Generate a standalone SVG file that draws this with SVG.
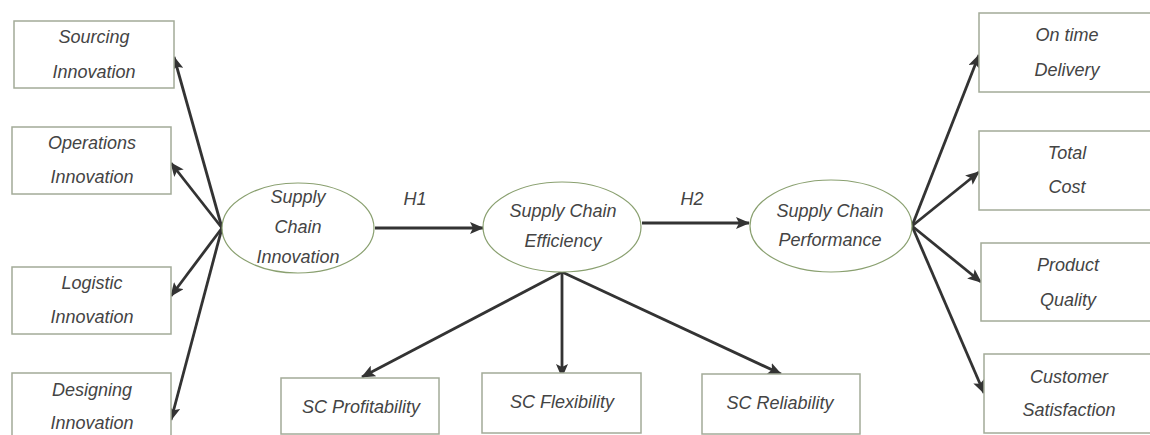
<svg xmlns="http://www.w3.org/2000/svg" width="1150" height="435" viewBox="0 0 1150 435">
<defs>
<style>
.box{fill:#fff;stroke:#a3ab98;stroke-width:1.5}
.ell{fill:#fff;stroke:#8aa070;stroke-width:1.2}
.t{font-family:"Liberation Sans",Arial,sans-serif;font-style:italic;font-size:18px;fill:#444;text-anchor:middle}
.c{stroke:#333;stroke-width:2.8;fill:none;marker-end:url(#ah)}
</style>
<marker id="ah" markerUnits="userSpaceOnUse" markerWidth="14" markerHeight="12" viewBox="0 0 14 12" refX="13" refY="6" orient="auto">
<path d="M0,0 L14,6 L0,12 L3,6 Z" fill="#333"/>
</marker>
</defs>
<rect width="1150" height="435" fill="#fff"/>
<g id="connectors">
<line class="c" x1="222" y1="228" x2="174" y2="57"/>
<line class="c" x1="222" y1="228" x2="171" y2="163"/>
<line class="c" x1="222" y1="228" x2="171" y2="296"/>
<line class="c" x1="222" y1="228" x2="171" y2="420"/>
<line class="c" x1="375" y1="228" x2="483" y2="228"/>
<line class="c" x1="642" y1="223" x2="749" y2="223"/>
<line class="c" x1="562" y1="272" x2="362" y2="377"/>
<line class="c" x1="562" y1="272" x2="562" y2="377"/>
<line class="c" x1="562" y1="272" x2="781" y2="374"/>
<line class="c" x1="912" y1="226" x2="979" y2="55"/>
<line class="c" x1="912" y1="226" x2="979" y2="172"/>
<line class="c" x1="912" y1="226" x2="981" y2="282"/>
<line class="c" x1="912" y1="226" x2="984" y2="393"/>
<text class="t" x="415" y="205">H1</text>
<text class="t" x="692" y="205">H2</text>
</g>
<g id="sourcing"><rect class="box" x="14" y="21" width="160" height="67"/><text class="t" x="94" y="43">Sourcing</text><text class="t" x="94" y="78">Innovation</text></g>
<g id="operations"><rect class="box" x="12" y="127" width="159" height="67"/><text class="t" x="92" y="149">Operations</text><text class="t" x="92" y="183">Innovation</text></g>
<g id="logistic"><rect class="box" x="12" y="267" width="159" height="67"/><text class="t" x="92" y="289">Logistic</text><text class="t" x="92" y="323">Innovation</text></g>
<g id="designing"><rect class="box" x="12" y="373" width="159" height="70"/><text class="t" x="92" y="396">Designing</text><text class="t" x="92" y="429">Innovation</text></g>
<g id="sc-innovation"><ellipse class="ell" cx="298" cy="228" rx="76" ry="45"/><text class="t" x="298" y="203">Supply</text><text class="t" x="298" y="233">Chain</text><text class="t" x="298" y="263">Innovation</text></g>
<g id="sc-efficiency"><ellipse class="ell" cx="562" cy="227" rx="79" ry="45"/><text class="t" x="563" y="217">Supply Chain</text><text class="t" x="563" y="247">Efficiency</text></g>
<g id="sc-performance"><ellipse class="ell" cx="831" cy="226" rx="81" ry="46"/><text class="t" x="830" y="217">Supply Chain</text><text class="t" x="830" y="246">Performance</text></g>
<g id="ontime"><rect class="box" x="979" y="13" width="180" height="79"/><text class="t" x="1067" y="41">On time</text><text class="t" x="1067" y="76">Delivery</text></g>
<g id="totalcost"><rect class="box" x="979" y="131" width="180" height="79"/><text class="t" x="1067" y="159">Total</text><text class="t" x="1067" y="193">Cost</text></g>
<g id="quality"><rect class="box" x="981" y="243" width="180" height="78"/><text class="t" x="1068" y="271">Product</text><text class="t" x="1068" y="306">Quality</text></g>
<g id="satisfaction"><rect class="box" x="984" y="354" width="180" height="79"/><text class="t" x="1069" y="383">Customer</text><text class="t" x="1069" y="416">Satisfaction</text></g>
<g id="profitability"><rect class="box" x="281" y="378" width="158" height="56"/><text class="t" x="361" y="413">SC Profitability</text></g>
<g id="flexibility"><rect class="box" x="482" y="373" width="159" height="60"/><text class="t" x="562" y="408">SC Flexibility</text></g>
<g id="reliability"><rect class="box" x="702" y="374" width="158" height="60"/><text class="t" x="780" y="409">SC Reliability</text></g>
</svg>
